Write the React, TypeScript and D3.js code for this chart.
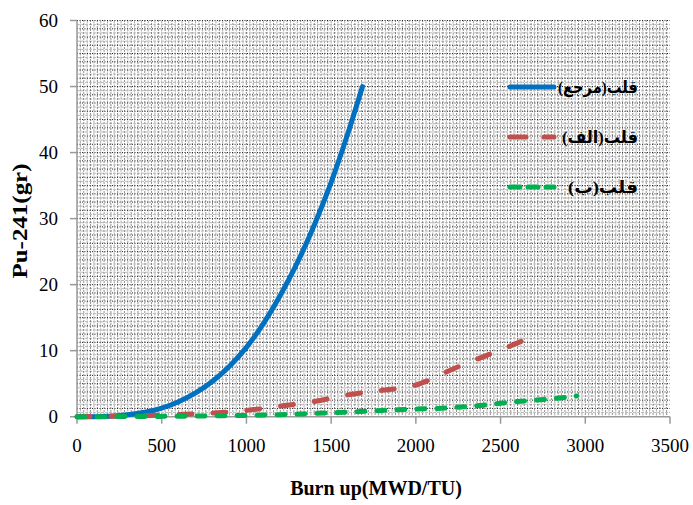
import React from "react";
import * as d3 from "d3";

const W = 693;
const H = 505;

const xTicks = [0, 500, 1000, 1500, 2000, 2500, 3000, 3500];
const yTicks = [0, 10, 20, 30, 40, 50, 60];

const refX = [0, 100, 200, 300, 400, 500, 600, 700, 800, 900, 1000, 1100, 1200, 1300, 1400, 1500, 1600, 1685];
const refY = [0, 0.01, 0.08, 0.28, 0.67, 1.31, 2.27, 3.6, 5.37, 7.65, 10.5, 14.1, 18.4, 23.3, 29.0, 35.5, 43.0, 50];

const alefX = [0, 200, 400, 600, 800, 1000, 1200, 1400, 1600, 1800, 1900, 2000, 2100, 2200, 2300, 2400, 2500, 2630];
const alefY = [0, 0.05, 0.15, 0.35, 0.55, 0.95, 1.6, 2.3, 3.3, 4.0, 4.3, 4.8, 5.8, 7.0, 8.1, 9.1, 10.1, 11.5];

const beX = [0, 500, 1000, 1200, 1400, 1600, 1800, 2000, 2200, 2400, 2600, 2800, 2950];
const beY = [0, 0.05, 0.2, 0.3, 0.5, 0.7, 0.95, 1.15, 1.35, 1.75, 2.3, 2.7, 3.15];

const seriesNames = ["قلب(مرجع)", "قلب(الف)", "قلب(ب)"];
const seriesColors = ["#0070C0", "#C0504D", "#00B050"];
const seriesDash = [null, "13,21", "8,12"];

const xTitle = "Burn up(MWD/TU)";
const yTitle = "Pu-241(gr)";

export default function App() {
  const x = d3.scaleLinear().domain([0, 3500]).range([77, 670]);
  const y = d3.scaleLinear().domain([0, 60]).range([416.7, 20.5]);

  const line = d3
    .line<[number, number]>()
    .x((d) => x(d[0]))
    .y((d) => y(d[1]))
    .curve(d3.curveMonotoneX);

  const series = [
    refX.map((v, i) => [v, refY[i]] as [number, number]),
    alefX.map((v, i) => [v, alefY[i]] as [number, number]),
    beX.map((v, i) => [v, beY[i]] as [number, number]),
  ];

  const vDark = d3.range(40, 3500, 40);
  const vLight = d3.range(20, 3500, 40);
  const hDark = d3.range(1.25, 60.01, 1.25);
  const hLight = d3.range(0.625, 60, 1.25);

  const serif = "'Liberation Serif', 'Times New Roman', serif";
  const legendFont = "'Liberation Serif', 'DejaVu Sans', serif";

  const legendY = [87, 137, 187];
  const legendW = [80, 76, 70];

  return (
    <svg
      width={W}
      height={H}
      style={{ position: "absolute", left: 0, top: 0, background: "#fff" }}
    >
      <rect x={0} y={0} width={W} height={H} fill="#fff" />
      {/* grid */}
      <g>
        {vLight.map((v) => (
          <line key={"vl" + v} x1={x(v)} x2={x(v)} y1={y(60)} y2={y(0)} stroke="#aaa" strokeWidth={1} strokeDasharray="3,1" />
        ))}
        {hLight.map((v) => (
          <line key={"hl" + v} x1={x(0)} x2={x(3500)} y1={y(v)} y2={y(v)} stroke="#bbb" strokeWidth={1} strokeDasharray="3,1" />
        ))}
        {vDark.map((v) => (
          <line key={"vd" + v} x1={x(v)} x2={x(v)} y1={y(60)} y2={y(0)} stroke="#222" strokeWidth={1} strokeDasharray="1,2" />
        ))}
        {hDark.map((v) => (
          <line key={"hd" + v} x1={x(0)} x2={x(3500)} y1={y(v)} y2={y(v)} stroke="#222" strokeWidth={1} strokeDasharray="1,1.5" />
        ))}
      </g>
      {/* axes */}
      <line x1={x(0)} x2={x(0)} y1={y(60)} y2={y(0)} stroke="#999" strokeWidth={1.5} />
      <line x1={x(0)} x2={x(3500)} y1={y(0)} y2={y(0)} stroke="#999" strokeWidth={1.5} />
      {yTicks.map((t) => (
        <g key={"yt" + t}>
          <line x1={x(0) - 7} x2={x(0)} y1={y(t)} y2={y(t)} stroke="#999" strokeWidth={1.5} />
          <text x={58} y={y(t)} dy="0.35em" textAnchor="end" fontFamily={serif} fontSize={19} fill="#000">
            {t}
          </text>
        </g>
      ))}
      {xTicks.map((t) => (
        <g key={"xt" + t}>
          <line x1={x(t)} x2={x(t)} y1={y(0)} y2={y(0) + 7} stroke="#999" strokeWidth={1.5} />
          <text x={x(t)} y={452} textAnchor="middle" fontFamily={serif} fontSize={19} fill="#000">
            {t}
          </text>
        </g>
      ))}
      {/* series */}
      {series.map((s, i) => (
        <path
          key={"s" + i}
          d={line(s) || ""}
          fill="none"
          stroke={seriesColors[i]}
          strokeWidth={5}
          strokeLinecap="round"
          strokeDasharray={seriesDash[i] || undefined}
        />
      ))}
      {/* legend */}
      {seriesNames.map((n, i) => (
        <g key={"lg" + i}>
          <line
            x1={510}
            x2={554}
            y1={legendY[i]}
            y2={legendY[i]}
            stroke={seriesColors[i]}
            strokeWidth={5}
            strokeLinecap="round"
            strokeDasharray={i === 1 ? "16,18" : i === 2 ? "10,8" : undefined}
          />
          <text
            x={638}
            y={legendY[i] + 6}
            textAnchor="start"
            style={{ direction: "rtl" }}
            fontFamily={legendFont}
            fontWeight="bold"
            fontSize={17}
            textLength={legendW[i]}
            lengthAdjust="spacingAndGlyphs"
            fill="#000"
          >
            {n}
          </text>
        </g>
      ))}
      {/* titles */}
      <text x={376} y={495} textAnchor="middle" fontFamily={serif} fontWeight="bold" fontSize={20} fill="#000">
        {xTitle}
      </text>
      <text
        transform={`translate(27,221) rotate(-90)`}
        textAnchor="middle"
        fontFamily={serif}
        fontWeight="bold"
        fontSize={21}
        textLength={115}
        lengthAdjust="spacingAndGlyphs"
        fill="#000"
      >
        {yTitle}
      </text>
    </svg>
  );
}
